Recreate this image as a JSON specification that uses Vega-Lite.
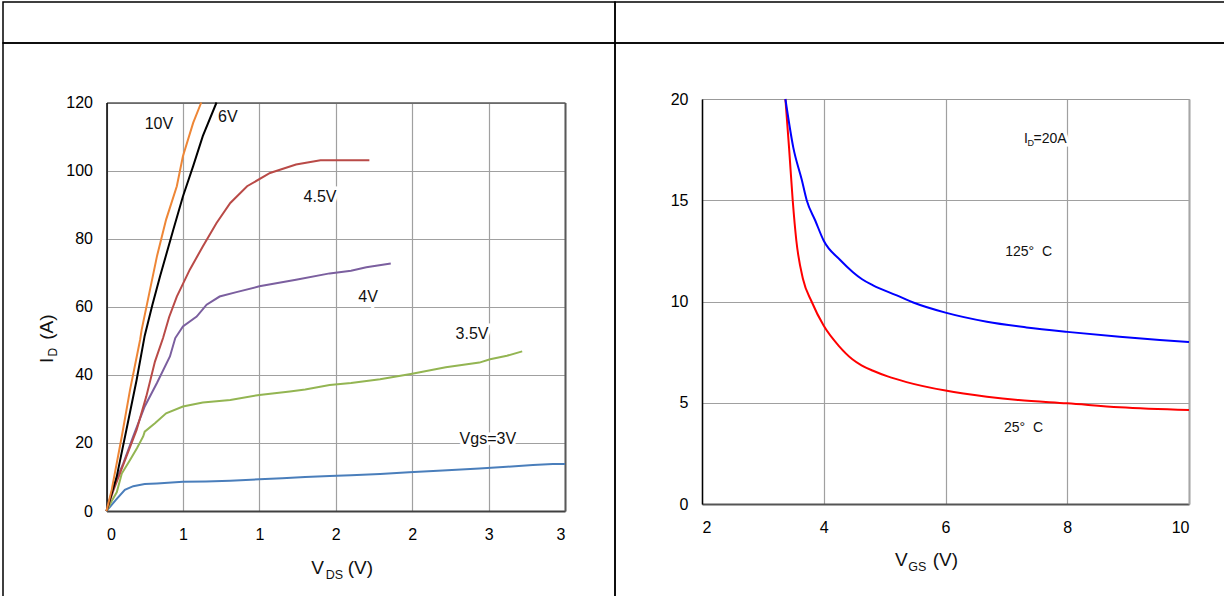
{
  "$schema": "https://vega.github.io/schema/vega-lite/v6.json",
  "padding": {"left": 2, "top": 1, "right": 0, "bottom": 0},
  "autosize": {"type": "pad"},
  "background": "white",
  "spacing": 0,
  "columns": 2,
  "bounds": "flush",
  "resolve": {"scale": {"color": "independent"}},
  "config": {
    "font": "Liberation Sans",
    "view": {"stroke": "#000000", "strokeWidth": 1.5},
    "axis": {"ticks": false, "labelFont": "Liberation Sans", "labelColor": "#000000", "labelFontSize": 16},
    "text": {"font": "Liberation Sans", "color": "#000000"}
  },
  "datasets": {
    "empty": [{"a": 0, "b": 0}],
    "iv": [
      {"vgs": "3V", "vds": 0, "id": 0}, {"vgs": "3V", "vds": 0.06, "id": 3.2}, {"vgs": "3V", "vds": 0.12, "id": 6.2}, {"vgs": "3V", "vds": 0.175, "id": 7.3}, {"vgs": "3V", "vds": 0.25, "id": 7.9}, {"vgs": "3V", "vds": 0.33, "id": 8.1}, {"vgs": "3V", "vds": 0.5, "id": 8.6}, {"vgs": "3V", "vds": 0.65, "id": 8.7}, {"vgs": "3V", "vds": 0.81, "id": 8.9}, {"vgs": "3V", "vds": 1.0, "id": 9.3}, {"vgs": "3V", "vds": 1.15, "id": 9.6}, {"vgs": "3V", "vds": 1.3, "id": 10.0}, {"vgs": "3V", "vds": 1.46, "id": 10.3}, {"vgs": "3V", "vds": 1.6, "id": 10.5}, {"vgs": "3V", "vds": 1.79, "id": 10.9}, {"vgs": "3V", "vds": 1.98, "id": 11.4}, {"vgs": "3V", "vds": 2.2, "id": 11.9}, {"vgs": "3V", "vds": 2.44, "id": 12.5}, {"vgs": "3V", "vds": 2.62, "id": 13.0}, {"vgs": "3V", "vds": 2.79, "id": 13.5}, {"vgs": "3V", "vds": 2.92, "id": 13.8}, {"vgs": "3V", "vds": 3.0, "id": 13.8},
      {"vgs": "3.5V", "vds": 0, "id": 0}, {"vgs": "3.5V", "vds": 0.035, "id": 3}, {"vgs": "3.5V", "vds": 0.067, "id": 5.5}, {"vgs": "3.5V", "vds": 0.1, "id": 11}, {"vgs": "3.5V", "vds": 0.154, "id": 15}, {"vgs": "3.5V", "vds": 0.2, "id": 18.5}, {"vgs": "3.5V", "vds": 0.24, "id": 21.9}, {"vgs": "3.5V", "vds": 0.25, "id": 23.3}, {"vgs": "3.5V", "vds": 0.317, "id": 25.8}, {"vgs": "3.5V", "vds": 0.39, "id": 28.7}, {"vgs": "3.5V", "vds": 0.5, "id": 30.7}, {"vgs": "3.5V", "vds": 0.63, "id": 31.9}, {"vgs": "3.5V", "vds": 0.81, "id": 32.6}, {"vgs": "3.5V", "vds": 1.0, "id": 34.1}, {"vgs": "3.5V", "vds": 1.2, "id": 35.1}, {"vgs": "3.5V", "vds": 1.3, "id": 35.7}, {"vgs": "3.5V", "vds": 1.46, "id": 37.0}, {"vgs": "3.5V", "vds": 1.6, "id": 37.6}, {"vgs": "3.5V", "vds": 1.79, "id": 38.7}, {"vgs": "3.5V", "vds": 2.0, "id": 40.3}, {"vgs": "3.5V", "vds": 2.22, "id": 42.2}, {"vgs": "3.5V", "vds": 2.44, "id": 43.6}, {"vgs": "3.5V", "vds": 2.51, "id": 44.6}, {"vgs": "3.5V", "vds": 2.62, "id": 45.6}, {"vgs": "3.5V", "vds": 2.72, "id": 46.9},
      {"vgs": "4V", "vds": 0, "id": 0}, {"vgs": "4V", "vds": 0.044, "id": 7.1}, {"vgs": "4V", "vds": 0.11, "id": 14}, {"vgs": "4V", "vds": 0.175, "id": 21.9}, {"vgs": "4V", "vds": 0.25, "id": 30.7}, {"vgs": "4V", "vds": 0.33, "id": 37.6}, {"vgs": "4V", "vds": 0.415, "id": 45.4}, {"vgs": "4V", "vds": 0.45, "id": 50.8}, {"vgs": "4V", "vds": 0.5, "id": 54.2}, {"vgs": "4V", "vds": 0.59, "id": 57.1}, {"vgs": "4V", "vds": 0.655, "id": 60.6}, {"vgs": "4V", "vds": 0.74, "id": 63}, {"vgs": "4V", "vds": 0.85, "id": 64.3}, {"vgs": "4V", "vds": 1.0, "id": 66}, {"vgs": "4V", "vds": 1.24, "id": 67.9}, {"vgs": "4V", "vds": 1.46, "id": 69.8}, {"vgs": "4V", "vds": 1.6, "id": 70.6}, {"vgs": "4V", "vds": 1.7, "id": 71.6}, {"vgs": "4V", "vds": 1.86, "id": 72.7},
      {"vgs": "4.5V", "vds": 0, "id": 0}, {"vgs": "4.5V", "vds": 0.044, "id": 5.9}, {"vgs": "4.5V", "vds": 0.13, "id": 16}, {"vgs": "4.5V", "vds": 0.197, "id": 23.8}, {"vgs": "4.5V", "vds": 0.26, "id": 33.6}, {"vgs": "4.5V", "vds": 0.317, "id": 43.9}, {"vgs": "4.5V", "vds": 0.37, "id": 50.8}, {"vgs": "4.5V", "vds": 0.41, "id": 57}, {"vgs": "4.5V", "vds": 0.46, "id": 63}, {"vgs": "4.5V", "vds": 0.545, "id": 70.9}, {"vgs": "4.5V", "vds": 0.63, "id": 77.7}, {"vgs": "4.5V", "vds": 0.72, "id": 84.6}, {"vgs": "4.5V", "vds": 0.81, "id": 90.5}, {"vgs": "4.5V", "vds": 0.92, "id": 95.4}, {"vgs": "4.5V", "vds": 1.07, "id": 99.3}, {"vgs": "4.5V", "vds": 1.24, "id": 101.8}, {"vgs": "4.5V", "vds": 1.4, "id": 103}, {"vgs": "4.5V", "vds": 1.72, "id": 103},
      {"vgs": "6V", "vds": 0, "id": 0}, {"vgs": "6V", "vds": 0.067, "id": 10.1}, {"vgs": "6V", "vds": 0.13, "id": 23.8}, {"vgs": "6V", "vds": 0.197, "id": 38.5}, {"vgs": "6V", "vds": 0.25, "id": 51.5}, {"vgs": "6V", "vds": 0.3, "id": 60.5}, {"vgs": "6V", "vds": 0.35, "id": 68.9}, {"vgs": "6V", "vds": 0.437, "id": 82.6}, {"vgs": "6V", "vds": 0.5, "id": 92.4}, {"vgs": "6V", "vds": 0.567, "id": 101.3}, {"vgs": "6V", "vds": 0.63, "id": 110.1}, {"vgs": "6V", "vds": 0.72, "id": 120},
      {"vgs": "10V", "vds": 0, "id": 0}, {"vgs": "10V", "vds": 0.034, "id": 6.2}, {"vgs": "10V", "vds": 0.1, "id": 21.9}, {"vgs": "10V", "vds": 0.154, "id": 35.6}, {"vgs": "10V", "vds": 0.22, "id": 50.3}, {"vgs": "10V", "vds": 0.23, "id": 53.2}, {"vgs": "10V", "vds": 0.28, "id": 64}, {"vgs": "10V", "vds": 0.33, "id": 74.8}, {"vgs": "10V", "vds": 0.39, "id": 85.6}, {"vgs": "10V", "vds": 0.46, "id": 95.4}, {"vgs": "10V", "vds": 0.5, "id": 104.2}, {"vgs": "10V", "vds": 0.567, "id": 114}, {"vgs": "10V", "vds": 0.62, "id": 120}
    ],
    "ivLabels": [
      {"vds": 0.343, "id": 112.3, "label": "10V"},
      {"vds": 0.794, "id": 114.3, "label": "6V"},
      {"vds": 1.397, "id": 90.8, "label": "4.5V"},
      {"vds": 1.712, "id": 61.4, "label": "4V"},
      {"vds": 2.392, "id": 50.5, "label": "3.5V"},
      {"vds": 2.495, "id": 19.6, "label": "Vgs=3V"}
    ],
    "ivXTitle": [{"vds": 1.34, "id": -18.5, "t": "V"}, {"vds": 1.578, "id": -18.5, "t": "(V)"}],
    "ivXTitleSub": [{"vds": 1.435, "id": -19.85, "t": "DS"}],
    "ivYTitle": [{"vds": -0.348, "id": 43.5, "t": "I"}, {"vds": -0.348, "id": 50.3, "t": "(A)"}],
    "ivYTitleSub": [{"vds": -0.325, "id": 45.4, "t": "D"}],
    "rds": [
      {"t": "25", "vgs": 3.37, "r": 20}, {"t": "25", "vgs": 3.43, "r": 17.6}, {"t": "25", "vgs": 3.49, "r": 15.0}, {"t": "25", "vgs": 3.55, "r": 13.0}, {"t": "25", "vgs": 3.66, "r": 11.1}, {"t": "25", "vgs": 3.8, "r": 10.0}, {"t": "25", "vgs": 4.0, "r": 8.8}, {"t": "25", "vgs": 4.25, "r": 7.8}, {"t": "25", "vgs": 4.47, "r": 7.15}, {"t": "25", "vgs": 4.62, "r": 6.85}, {"t": "25", "vgs": 4.81, "r": 6.58}, {"t": "25", "vgs": 5.05, "r": 6.3}, {"t": "25", "vgs": 5.36, "r": 6.02}, {"t": "25", "vgs": 6.0, "r": 5.6}, {"t": "25", "vgs": 6.68, "r": 5.3}, {"t": "25", "vgs": 7.2, "r": 5.13}, {"t": "25", "vgs": 8.0, "r": 4.97}, {"t": "25", "vgs": 8.86, "r": 4.78}, {"t": "25", "vgs": 10, "r": 4.64},
      {"t": "125", "vgs": 3.37, "r": 20}, {"t": "125", "vgs": 3.5, "r": 17.6}, {"t": "125", "vgs": 3.64, "r": 16}, {"t": "125", "vgs": 3.72, "r": 15}, {"t": "125", "vgs": 3.86, "r": 14}, {"t": "125", "vgs": 4.0, "r": 13.0}, {"t": "125", "vgs": 4.27, "r": 12.05}, {"t": "125", "vgs": 4.48, "r": 11.45}, {"t": "125", "vgs": 4.63, "r": 11.1}, {"t": "125", "vgs": 4.81, "r": 10.8}, {"t": "125", "vgs": 5.2, "r": 10.3}, {"t": "125", "vgs": 5.47, "r": 9.95}, {"t": "125", "vgs": 6.0, "r": 9.45}, {"t": "125", "vgs": 6.68, "r": 9.0}, {"t": "125", "vgs": 7.33, "r": 8.72}, {"t": "125", "vgs": 8.0, "r": 8.5}, {"t": "125", "vgs": 8.86, "r": 8.26}, {"t": "125", "vgs": 9.52, "r": 8.1}, {"t": "125", "vgs": 10, "r": 8.0}
    ],
    "rdsLabels": [
      {"vgs": 6.98, "r": 12.26, "label": "125°\u00a0\u00a0C"},
      {"vgs": 6.96, "r": 3.57, "label": "25°\u00a0\u00a0C"},
      {"vgs": 7.29, "r": 17.84, "label": "I"},
      {"vgs": 7.446, "r": 17.84, "label": "=20A"}
    ],
    "rdsLabelSub": [{"vgs": 7.347, "r": 17.69, "label": "D"}],
    "rdsXTitle": [{"vgs": 5.17, "r": -3.06, "t": "V"}, {"vgs": 5.79, "r": -3.06, "t": "(V)"}],
    "rdsXTitleSub": [{"vgs": 5.39, "r": -3.29, "t": "GS"}]
  },
  "concat": [
    {"width": 612, "height": 41, "data": {"name": "empty"}, "mark": {"type": "point", "opacity": 0},
     "encoding": {"x": {"field": "a", "type": "quantitative", "axis": null}, "y": {"field": "b", "type": "quantitative", "axis": null}}},
    {"width": 612, "height": 41, "data": {"name": "empty"}, "mark": {"type": "point", "opacity": 0},
     "encoding": {"x": {"field": "a", "type": "quantitative", "axis": null}, "y": {"field": "b", "type": "quantitative", "axis": null}}},
    {
      "width": 612,
      "height": 560,
      "resolve": {"axis": {"x": "independent", "y": "independent"}},
      "layer": [
        {
          "data": {"name": "ivLabels"},
          "mark": {"type": "text", "fontSize": 16, "align": "center", "baseline": "alphabetic", "color": "white", "stroke": "white", "strokeWidth": 7},
          "encoding": {
            "x": {"field": "vds", "type": "quantitative",
                  "scale": {"domain": [0, 3], "range": [103.5, 562], "nice": false, "zero": false},
                  "axis": {"orient": "bottom", "values": [0, 0.5, 1, 1.5, 2, 2.5, 3], "labelExpr": "format(round(datum.value), 'd')", "grid": false, "domainColor": "#404040", "domainWidth": 2, "labelPadding": 15, "offset": -92, "title": null}},
            "y": {"field": "id", "type": "quantitative",
                  "scale": {"domain": [0, 120], "range": [468, 59.5], "nice": false, "zero": false},
                  "axis": {"orient": "left", "values": [0, 20, 40, 60, 80, 100, 120], "grid": true, "gridColor": "#a0a0a0", "gridWidth": 1.2, "domainColor": "#000000", "domainWidth": 1.5, "labelPadding": 14, "offset": -103.5, "title": null}},
            "text": {"field": "label"}
          }
        },
        {
          "data": {"name": "iv"},
          "mark": {"type": "line", "strokeWidth": 2},
          "encoding": {
            "x": {"field": "vds", "type": "quantitative",
                  "axis": {"orient": "top", "values": [0, 0.5, 1, 1.5, 2, 2.5, 3], "labels": false, "grid": true, "gridColor": "#a0a0a0", "gridWidth": 1.2, "domainColor": "#595959", "domainWidth": 1.5, "offset": -59.5, "title": null}},
            "y": {"field": "id", "type": "quantitative",
                  "axis": {"orient": "right", "labels": false, "grid": false, "domainColor": "#595959", "domainWidth": 2, "offset": -50, "title": null}},
            "color": {"field": "vgs", "type": "nominal",
                      "scale": {"domain": ["10V", "6V", "4.5V", "4V", "3.5V", "3V"], "range": ["#ee8636", "#000000", "#b94a47", "#7b5f9f", "#93b552", "#4a7ebb"]},
                      "legend": null}
          }
        },
        {
          "data": {"name": "ivLabels"},
          "mark": {"type": "text", "fontSize": 16, "align": "center", "baseline": "alphabetic", "color": "#111111"},
          "encoding": {
            "x": {"field": "vds", "type": "quantitative", "axis": null},
            "y": {"field": "id", "type": "quantitative", "axis": null},
            "text": {"field": "label"}
          }
        },
        {
          "data": {"name": "ivXTitle"},
          "mark": {"type": "text", "fontSize": 19, "align": "left", "baseline": "alphabetic", "color": "#111111"},
          "encoding": {
            "x": {"field": "vds", "type": "quantitative", "axis": null},
            "y": {"field": "id", "type": "quantitative", "axis": null},
            "text": {"field": "t"}
          }
        },
        {
          "data": {"name": "ivXTitleSub"},
          "mark": {"type": "text", "fontSize": 12.5, "align": "left", "baseline": "alphabetic", "color": "#111111"},
          "encoding": {
            "x": {"field": "vds", "type": "quantitative", "axis": null},
            "y": {"field": "id", "type": "quantitative", "axis": null},
            "text": {"field": "t"}
          }
        },
        {
          "data": {"name": "ivYTitle"},
          "mark": {"type": "text", "fontSize": 19, "align": "left", "baseline": "alphabetic", "angle": 270, "color": "#111111"},
          "encoding": {
            "x": {"field": "vds", "type": "quantitative", "axis": null},
            "y": {"field": "id", "type": "quantitative", "axis": null},
            "text": {"field": "t"}
          }
        },
        {
          "data": {"name": "ivYTitleSub"},
          "mark": {"type": "text", "fontSize": 12, "align": "left", "baseline": "alphabetic", "angle": 270, "color": "#111111"},
          "encoding": {
            "x": {"field": "vds", "type": "quantitative", "axis": null},
            "y": {"field": "id", "type": "quantitative", "axis": null},
            "text": {"field": "t"}
          }
        }
      ]
    },
    {
      "width": 612,
      "height": 560,
      "resolve": {"axis": {"x": "independent", "y": "independent"}},
      "layer": [
        {
          "data": {"name": "rdsLabels"},
          "mark": {"type": "text", "fontSize": 14, "align": "left", "baseline": "alphabetic", "color": "white", "stroke": "white", "strokeWidth": 7},
          "encoding": {
            "x": {"field": "vgs", "type": "quantitative",
                  "scale": {"domain": [2, 10], "range": [87, 574], "nice": false, "zero": false},
                  "axis": {"orient": "bottom", "values": [2, 4, 6, 8, 10], "grid": false, "domainColor": "#555555", "domainWidth": 2, "labelPadding": 15, "labelFontSize": 16, "offset": -99, "title": null}},
            "y": {"field": "r", "type": "quantitative",
                  "scale": {"domain": [0, 20], "range": [461, 56], "nice": false, "zero": false},
                  "axis": {"orient": "left", "values": [0, 5, 10, 15, 20], "grid": true, "gridColor": "#a0a0a0", "gridWidth": 1.2, "domainColor": "#000000", "domainWidth": 1.5, "labelPadding": 14, "labelFontSize": 16, "offset": -87, "title": null}},
            "text": {"field": "label"}
          }
        },
        {
          "data": {"name": "rds"},
          "mark": {"type": "line", "strokeWidth": 2, "interpolate": "monotone"},
          "encoding": {
            "x": {"field": "vgs", "type": "quantitative",
                  "axis": {"orient": "top", "values": [2, 4, 6, 8, 10], "labels": false, "grid": true, "gridColor": "#a0a0a0", "gridWidth": 1.2, "domainColor": "#999999", "domainWidth": 1.2, "offset": -56, "title": null}},
            "y": {"field": "r", "type": "quantitative",
                  "axis": {"orient": "right", "labels": false, "grid": false, "domainColor": "#a6a6a6", "domainWidth": 2, "offset": -38, "title": null}},
            "color": {"field": "t", "type": "nominal",
                      "scale": {"domain": ["25", "125"], "range": ["#ff0000", "#0000ff"]},
                      "legend": null}
          }
        },
        {
          "data": {"name": "rdsLabels"},
          "mark": {"type": "text", "fontSize": 14, "align": "left", "baseline": "alphabetic", "color": "#111111"},
          "encoding": {
            "x": {"field": "vgs", "type": "quantitative", "axis": null},
            "y": {"field": "r", "type": "quantitative", "axis": null},
            "text": {"field": "label"}
          }
        },
        {
          "data": {"name": "rdsLabelSub"},
          "mark": {"type": "text", "fontSize": 9, "align": "left", "baseline": "alphabetic", "color": "#111111"},
          "encoding": {
            "x": {"field": "vgs", "type": "quantitative", "axis": null},
            "y": {"field": "r", "type": "quantitative", "axis": null},
            "text": {"field": "label"}
          }
        },
        {
          "data": {"name": "rdsXTitle"},
          "mark": {"type": "text", "fontSize": 19, "align": "left", "baseline": "alphabetic", "color": "#111111"},
          "encoding": {
            "x": {"field": "vgs", "type": "quantitative", "axis": null},
            "y": {"field": "r", "type": "quantitative", "axis": null},
            "text": {"field": "t"}
          }
        },
        {
          "data": {"name": "rdsXTitleSub"},
          "mark": {"type": "text", "fontSize": 12.5, "align": "left", "baseline": "alphabetic", "color": "#111111"},
          "encoding": {
            "x": {"field": "vgs", "type": "quantitative", "axis": null},
            "y": {"field": "r", "type": "quantitative", "axis": null},
            "text": {"field": "t"}
          }
        }
      ]
    }
  ]
}
